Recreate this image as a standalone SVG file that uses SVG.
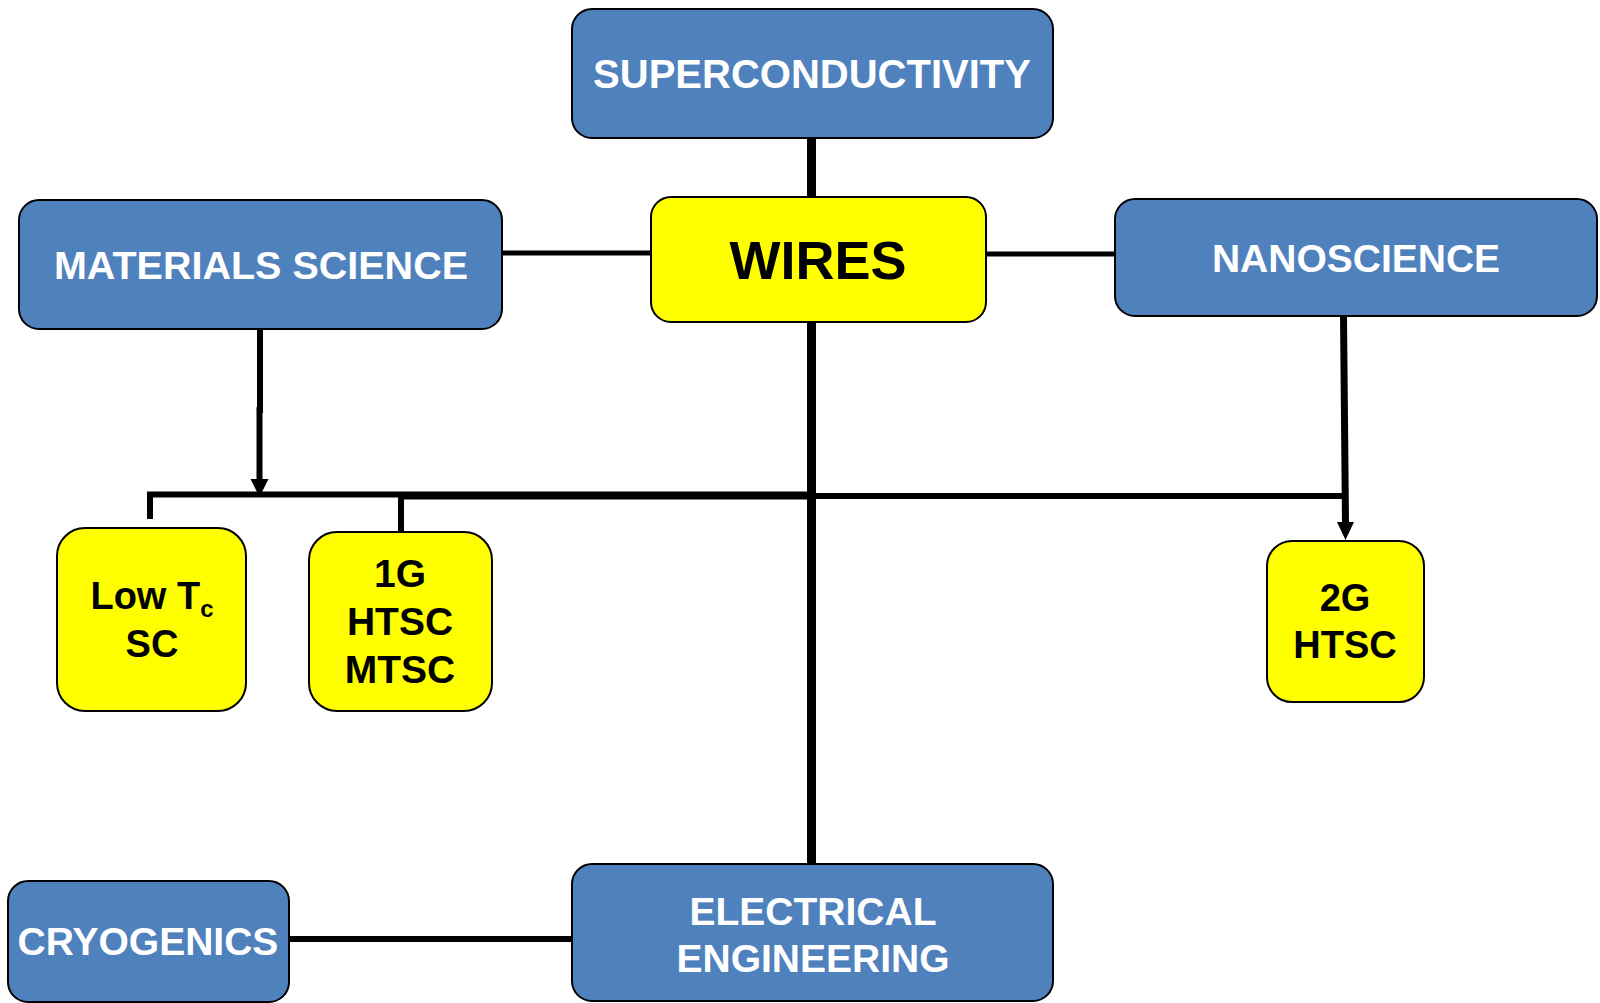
<svg xmlns="http://www.w3.org/2000/svg" width="1600" height="1003" viewBox="0 0 1600 1003">
<style>
.blue{fill:#4F81BD;stroke:#000;stroke-width:2}
.yel{fill:#FFFF00;stroke:#000;stroke-width:2}
.wt{font-family:"Liberation Sans",Arial,sans-serif;font-weight:bold;fill:#fff;text-anchor:middle}
.bt{font-family:"Liberation Sans",Arial,sans-serif;font-weight:bold;fill:#000;text-anchor:middle}
.c{stroke:#000;fill:none}
</style>
<defs>
<marker id="arr" markerUnits="userSpaceOnUse" viewBox="0 0 18 18" markerWidth="18" markerHeight="18" refX="9" refY="18" orient="auto-start-reverse">
<path d="M0,0 L18,0 L9,18 Z" fill="#000"/>
</marker>
</defs>
<g id="connectors">
<line class="c" x1="811.5" y1="138" x2="811.5" y2="198" stroke-width="9"/>
<line class="c" x1="811.5" y1="321" x2="811.5" y2="865" stroke-width="9"/>
<line class="c" x1="502" y1="253" x2="652" y2="253" stroke-width="5"/>
<line class="c" x1="985" y1="254" x2="1116" y2="254" stroke-width="5"/>
<line class="c" x1="289" y1="939" x2="573" y2="939" stroke-width="6"/>
<polyline class="c" points="150,519 150,494.5 811,494.5" stroke-width="6"/>
<line class="c" x1="400" y1="496" x2="811" y2="496" stroke-width="7"/>
<line class="c" x1="401" y1="495" x2="401" y2="533" stroke-width="6"/>
<line class="c" x1="811" y1="496" x2="1345" y2="496" stroke-width="6"/>
<polyline class="c" points="260,329 260,410 259.5,410 259.5,480" stroke-width="6"/>
<path d="M250.5,479 L268.5,479 L259.5,497 Z" fill="#000"/>
<line class="c" x1="1343.5" y1="316" x2="1345.5" y2="523" stroke-width="7"/>
<path d="M1337,522 L1354,522 L1345.5,540 Z" fill="#000"/>
</g>
<g id="superconductivity">
<rect class="blue" x="572" y="9" width="481" height="129" rx="20"/>
<text class="wt" x="812" y="88" font-size="40">SUPERCONDUCTIVITY</text>
</g>
<g id="wires">
<rect class="yel" x="651" y="197" width="335" height="125" rx="20"/>
<text class="bt" x="818" y="279" font-size="54">WIRES</text>
</g>
<g id="materials-science">
<rect class="blue" x="19" y="200" width="483" height="129" rx="20"/>
<text class="wt" x="261" y="279" font-size="39.5">MATERIALS SCIENCE</text>
</g>
<g id="nanoscience">
<rect class="blue" x="1115" y="199" width="482" height="117" rx="20"/>
<text class="wt" x="1356" y="272" font-size="39">NANOSCIENCE</text>
</g>
<g id="low-tc-sc">
<rect class="yel" x="57" y="528" width="189" height="183" rx="28"/>
<text class="bt" x="152" y="609" font-size="38">Low T<tspan font-size="24" dy="8">c</tspan></text>
<text class="bt" x="152" y="657" font-size="38">SC</text>
</g>
<g id="g1-htsc-mtsc">
<rect class="yel" x="309" y="532" width="183" height="179" rx="28"/>
<text class="bt" x="400" y="587" font-size="39">1G</text>
<text class="bt" x="400" y="635" font-size="39">HTSC</text>
<text class="bt" x="400" y="683" font-size="39">MTSC</text>
</g>
<g id="g2-htsc">
<rect class="yel" x="1267" y="541" width="157" height="161" rx="25"/>
<text class="bt" x="1345" y="611" font-size="38">2G</text>
<text class="bt" x="1345" y="658" font-size="38">HTSC</text>
</g>
<g id="cryogenics">
<rect class="blue" x="8" y="881" width="281" height="121" rx="20"/>
<text class="wt" x="148" y="955" font-size="39">CRYOGENICS</text>
</g>
<g id="electrical-engineering">
<rect class="blue" x="572" y="864" width="481" height="137" rx="20"/>
<text class="wt" x="813" y="925" font-size="39">ELECTRICAL</text>
<text class="wt" x="813" y="972" font-size="39">ENGINEERING</text>
</g>
</svg>
